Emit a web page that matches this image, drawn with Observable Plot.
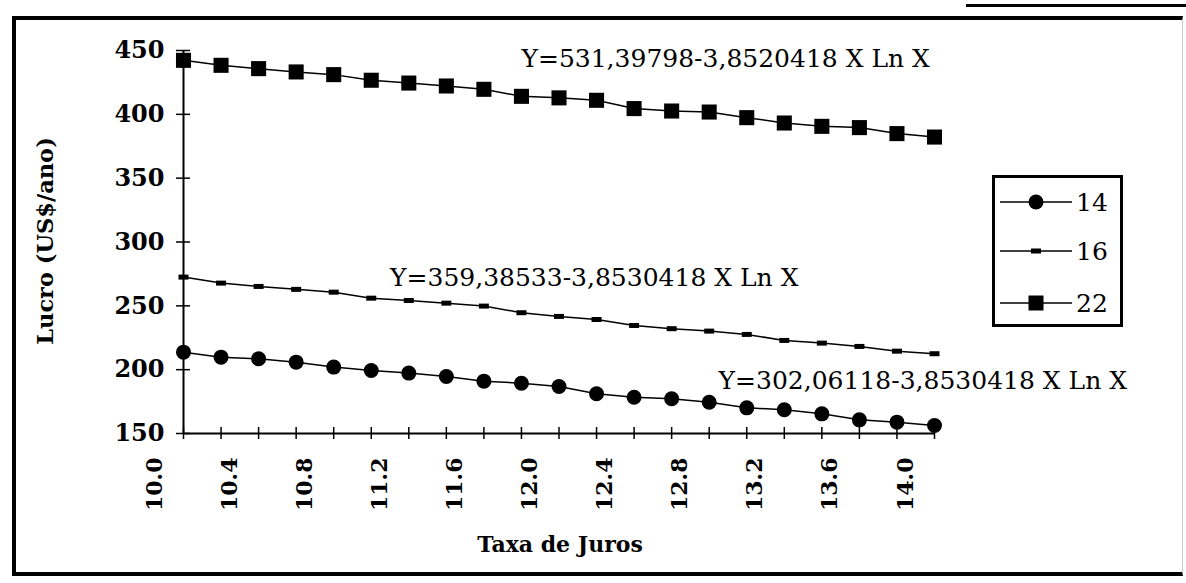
<!DOCTYPE html>
<html><head><meta charset="utf-8">
<script src="https://cdn.jsdelivr.net/npm/d3@7"></script>
<script src="https://cdn.jsdelivr.net/npm/@observablehq/plot@0.6"></script>
<style>
body{margin:0;background:#fff;}
#wrap{position:relative;width:1186px;height:583px;overflow:hidden;font-family:"DejaVu Serif","Liberation Serif",serif;color:#000;background:#fff;}
#frame{position:absolute;left:12px;top:16px;width:1171px;height:560px;border-top:4px solid #000;border-left:4px solid #000;border-bottom:4px solid #000;border-right:1px solid #ccc;box-sizing:border-box;}
#artifact{position:absolute;left:966px;top:4px;width:220px;height:3px;background:#000;}
#chart{position:absolute;left:0;top:0;}
#ytitle{position:absolute;left:45px;top:241px;transform:translate(-50%,-50%) rotate(-90deg);white-space:nowrap;font-weight:bold;font-size:22.5px;}
#xtitle{position:absolute;left:560px;top:544px;transform:translate(-50%,-50%);white-space:nowrap;font-weight:bold;font-size:22px;}
#legend{position:absolute;left:992px;top:175px;width:131px;height:152px;border:3px solid #000;box-sizing:border-box;background:#fff;}
.lg{position:absolute;left:5px;height:30px;display:flex;align-items:center;}
.lg span{font-size:25px;margin-left:4px;}
</style>
</head><body>
<div id="wrap">
  <div id="frame"></div>
  <div id="artifact"></div>
  <div id="chart"></div>
  <div id="ytitle">Lucro (US$/ano)</div>
  <div id="xtitle">Taxa de Juros</div>
  <div id="legend"></div>
</div>
<script>
// ---- data ----
const rates = [10.0,10.2,10.4,10.6,10.8,11.0,11.2,11.4,11.6,11.8,12.0,12.2,12.4,12.6,12.8,13.0,13.2,13.4,13.6,13.8,14.0];
const lucro14 = [213.7,209.8,208.5,205.9,202.0,199.4,197.3,194.7,191.0,189.4,186.8,181.1,178.4,177.2,174.5,170.1,168.6,165.4,160.7,158.9,156.3];
const lucro16 = [272.5,267.8,265.2,262.9,260.7,256.0,254.2,252.1,249.8,244.6,241.7,239.3,234.6,232.1,230.2,227.6,222.9,220.8,218.2,214.5,212.5];
const lucro22 = [442.3,438.4,435.8,433.2,431.1,426.7,424.5,422.2,419.6,414.1,412.9,411.0,404.5,402.6,401.8,397.4,393.2,390.6,389.6,384.9,382.2];
const seriesNames = ["14","16","22"];
const xTickLabels = [10.0,10.4,10.8,11.2,11.6,12.0,12.4,12.8,13.2,13.6,14.0];
const yTicks = [150,200,250,300,350,400,450];
const equations = ["Y=531,39798-3,8520418 X Ln X","Y=359,38533-3,8530418 X Ln X","Y=302,06118-3,8530418 X Ln X"];
const eqX = [11.8,11.1,12.85];
const eqY = [443,271.5,191.5];

// ---- build ----
const FONT = '"DejaVu Serif","Liberation Serif",serif';
const seriesValues = [lucro14, lucro16, lucro22];
const rows = seriesNames.flatMap((s, k) => rates.map((r, i) => ({x: r, y: seriesValues[k][i], s})));
const eqRows = equations.map((t, i) => ({x: eqX[i], y: eqY[i], t}));
const dashSym = {draw(ctx, size) { ctx.moveTo(-5, -2.5); ctx.lineTo(5, -2.5); ctx.lineTo(5, 2.5); ctx.lineTo(-5, 2.5); ctx.closePath(); }};

const chart = Plot.plot({
  width: 1186, height: 583,
  marginLeft: 183, marginRight: 252, marginTop: 50, marginBottom: 150,
  style: {fontFamily: FONT, color: "#000", background: "transparent"},
  x: {domain: [10, 14]},
  y: {domain: [150, 450]},
  marks: [
    Plot.axisY({ticks: yTicks, tickSize: 7, tickPadding: 12, fontSize: 24, fontWeight: "bold", fontFamily: FONT, label: null, strokeWidth: 1.5}),
    Plot.axisY({ticks: yTicks, tickSize: -7, text: null, label: null, strokeWidth: 1.5}),
    Plot.axisX({ticks: rates, tickSize: 6, text: null, label: null, strokeWidth: 1.5}),
    Plot.axisX({ticks: rates, tickSize: -6, text: null, label: null, strokeWidth: 1.5}),
    Plot.axisX({ticks: xTickLabels, tickSize: 0, tickPadding: 24, tickRotate: -90, dx: -29, tickFormat: d3.format(".1f"), fontSize: 22, fontWeight: "bold", fontFamily: FONT, label: null}),
    Plot.ruleY([150], {stroke: "#000", strokeWidth: 2}),
    Plot.ruleX([10], {stroke: "#000", strokeWidth: 2}),
    Plot.line(rows, {x: "x", y: "y", z: "s", stroke: "#000", strokeWidth: 1.5}),
    Plot.dot(rows.filter(d => d.s === "14"), {x: "x", y: "y", symbol: "circle", r: 7.5, fill: "#000", stroke: null}),
    Plot.dot(rows.filter(d => d.s === "16"), {x: "x", y: "y", symbol: dashSym, r: 3, fill: "#000", stroke: null}),
    Plot.dot(rows.filter(d => d.s === "22"), {x: "x", y: "y", symbol: "square", r: 8.5, fill: "#000", stroke: null}),
    Plot.text(eqRows, {x: "x", y: "y", text: "t", textAnchor: "start", lineAnchor: "middle", fontSize: 25, fontFamily: FONT, fill: "#000"})
  ]
});
document.getElementById("chart").appendChild(chart);

// legend
const legend = document.getElementById("legend");
const legendTops = [9, 58, 110];
const markerSvg = [
  '<circle cx="36" cy="15" r="7.5" fill="#000"/>',
  '<rect x="31" y="12.5" width="10" height="5" fill="#000"/>',
  '<rect x="28.5" y="7.5" width="15" height="15" fill="#000"/>'
];
seriesNames.forEach((s, i) => {
  const div = document.createElement("div");
  div.className = "lg";
  div.style.top = legendTops[i] + "px";
  div.innerHTML = '<svg width="72" height="30"><line x1="0" x2="72" y1="15" y2="15" stroke="#000" stroke-width="1.5"/>' + markerSvg[i] + '</svg><span>' + s + '</span>';
  legend.appendChild(div);
});
</script>
</body></html>
